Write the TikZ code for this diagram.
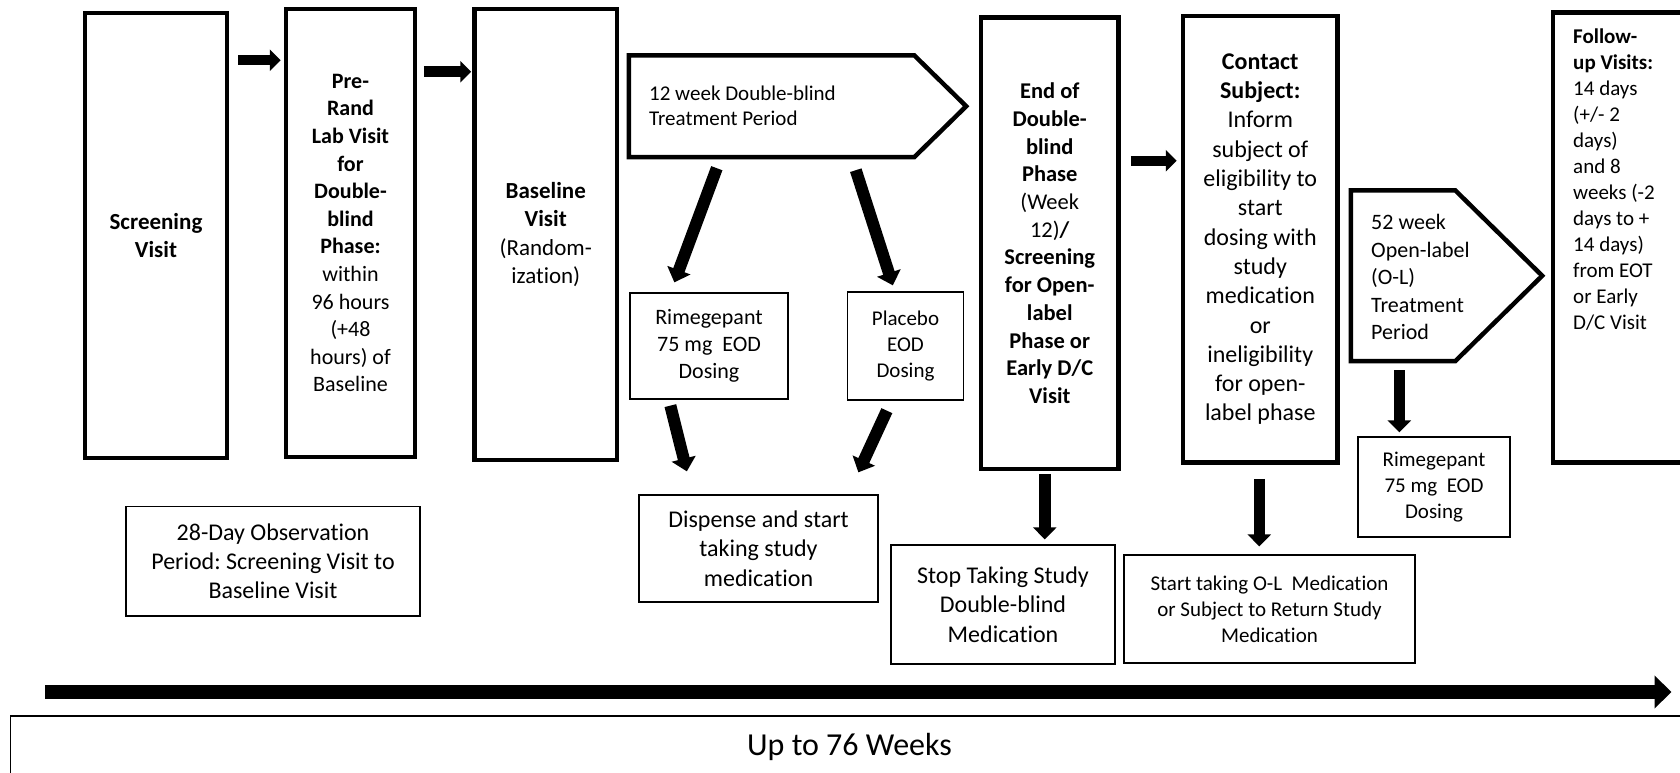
\documentclass[tikz,border=0pt]{standalone}
\usepackage{fontspec}
\setmainfont{Carlito}[Ligatures={NoCommon,NoContextual}]
\usetikzlibrary{arrows.meta,calc}
\frenchspacing
\begin{document}
\begin{tikzpicture}[x=1pt,y=-1pt,
  thickbox/.style={draw,line width=4.5pt,inner sep=0pt,align=center},
  thinbox/.style={draw,line width=1.3pt,inner sep=0pt,align=center},
  pentpath/.style={draw,line width=4.5pt,line join=miter},
  harrow/.style={line width=10.5pt,-{Triangle[width=21pt,length=11pt]}},
  darrow/.style={line width=12pt,-{Triangle[width=24pt,length=13pt]}},
  varrow/.style={line width=11.5pt,-{Triangle[width=23pt,length=12pt]}},
  tlarrow/.style={line width=14pt,-{Triangle[width=32pt,length=17pt]}},
  fa/.style={font=\fontsize{21}{26}\selectfont},
  fb/.style={font=\fontsize{22}{27.6}\selectfont},
  fc/.style={font=\fontsize{23}{28.3}\selectfont},
  fd/.style={font=\fontsize{24}{29.3}\selectfont},
  ]
\useasboundingbox (0,0) rectangle (1680,773);
\clip (0,0) rectangle (1680,773);

% thick boxes
\node[thickbox,fc,minimum width=142,minimum height=445] (scr) at (156,235.5)
  {\textbf{Screening}\\\textbf{Visit}};
\node[thickbox,fb,minimum width=129,minimum height=448] (pre) at (350.5,233)
  {\textbf{Pre-}\\\textbf{Rand}\\\textbf{Lab Visit}\\\textbf{for}\\\textbf{Double-}\\\textbf{blind}\\\textbf{Phase:}\\within\\96 hours\\(+48\\hours) of\\Baseline};
\node[thickbox,fc,minimum width=142.5,minimum height=451] (bas) at (545.75,234.5)
  {\textbf{Baseline}\\\textbf{Visit}\\(Random-\\ization)};
\node[thickbox,font=\fontsize{22.5}{27.7}\selectfont,minimum width=137.5,minimum height=451.5] (end) at (1049.75,243.25)
  {\textbf{End of}\\\textbf{Double-}\\\textbf{blind}\\\textbf{Phase}\\(Week\\12)\textbf{/}\\\textbf{Screening}\\\textbf{for Open-}\\\textbf{label}\\\textbf{Phase or}\\\textbf{Early D/C}\\\textbf{Visit}};
\node[thickbox,fd,minimum width=154.5,minimum height=446.5] (con) at (1260.25,239.25)
  {\textbf{Contact}\\\textbf{Subject:}\\Inform\\subject of\\eligibility to\\start\\dosing with\\study\\medication\\or\\ineligibility\\for open-\\label phase};
\node[thickbox,minimum width=167,minimum height=450] (fol) at (1636.5,237.5) {};
\node[fa,align=left,anchor=west,inner sep=0pt] (folt) at (1573,180)
  {\textbf{Follow-}\\\textbf{up Visits:}\\14 days\\(+/- 2\\days)\\and 8\\weeks (-2\\days to +\\14 days)\\from EOT\\or Early\\D/C Visit};

% pentagons
\node[minimum width=285,minimum height=101.5,inner sep=0pt] (tw) at (771.5,106.25) {};
\coordinate (twtip) at ($(tw.east)+(52,0)$);
\draw[pentpath] (tw.north west) -- (tw.north east) -- (twtip) -- (tw.south east) -- (tw.south west) -- cycle;
\node[font=\fontsize{21}{25}\selectfont,align=left,anchor=west,inner sep=0pt] (twt) at (649,105.5)
  {12 week Double-blind\\Treatment Period};

\node[minimum width=104,minimum height=170.5,inner sep=0pt] (ol) at (1403,275.75) {};
\coordinate (oltip) at ($(ol.east)+(87,0)$);
\draw[pentpath] (ol.north west) -- (ol.north east) -- (oltip) -- (ol.south east) -- (ol.south west) -- cycle;
\node[font=\fontsize{22}{27.5}\selectfont,align=left,anchor=west,inner sep=0pt] (olt) at (1371,277)
  {52 week\\Open-label\\(O-L)\\Treatment\\Period};

% thin boxes
\node[thinbox,fd,minimum width=294,minimum height=109.3] (obs) at (273,561.35)
  {28-Day Observation\\Period: Screening Visit to\\Baseline Visit};
\node[thinbox,font=\fontsize{22}{27}\selectfont,minimum width=158,minimum height=106] (rim) at (709,346)
  {Rimegepant\\75 mg\ \ EOD\\Dosing};
\node[thinbox,fa,minimum width=116,minimum height=108] (plc) at (905.5,346)
  {Placebo\\EOD\\Dosing};
\node[thinbox,font=\fontsize{24}{29.5}\selectfont,minimum width=239,minimum height=107] (dis) at (758.5,548.5)
  {Dispense and start\\taking study\\medication};
\node[thinbox,fd,minimum width=224,minimum height=119] (stop) at (1003,604.5)
  {Stop Taking Study\\Double-blind\\Medication};
\node[thinbox,fa,minimum width=291,minimum height=108] (sta) at (1269.5,609)
  {Start taking O-L\ \ Medication\\or Subject to Return Study\\Medication};
\node[thinbox,fa,minimum width=152,minimum height=100] (rim2) at (1434,487)
  {Rimegepant\\75 mg\ \ EOD\\Dosing};

% horizontal arrows
\draw[harrow] ($(scr.north east)+(9,49.5)$) -- ($(pre.north west)+(-3,53.5)$);
\draw[harrow] ($(pre.north east)+(6.5,65)$) -- ($(bas.north west)+(-1,65)$);
\draw[harrow] ($(end.north east)+(10,145.5)$) -- ($(con.north west)+(-4,147)$);

% diagonal arrows
\draw[darrow] ($(tw.south west)+(88,11)$) -- ($(rim.north west)+(45,-10)$);
\draw[darrow] ($(tw.south west)+(227,13)$) -- ($(plc.north west)+(46,-6)$);
\draw[darrow] ($(rim.south west)+(41,6)$) -- ($(dis.north west)+(48.5,-23)$);
\draw[darrow] ($(plc.south west)+(40,10)$) -- ($(dis.north west)+(220,-22)$);

% vertical arrows
\draw[varrow] ($(end.south)+(-5,2.5)$) -- ($(end.south |- stop.north)+(-5,-5)$);
\draw[varrow] ($(con.south)+(-1,14)$) -- ($(con.south |- sta.north)+(-1,-8)$);
\draw[varrow] ($(ol.south west)+(48.5,9)$) -- ($(ol.south west |- rim2.north)+(48.5,-4)$);

% timeline
\coordinate (tlA) at (45,692);
\coordinate (tlB) at (1671.5,692);
\draw[tlarrow] (tlA) -- (tlB);

\draw[line width=1.2pt] (10.5,716) rectangle (1720,820);
\node[font=\fontsize{32}{38}\selectfont,inner sep=0pt] (wks) at (849.5,747) {Up to 76 Weeks};
\end{tikzpicture}
\end{document}
